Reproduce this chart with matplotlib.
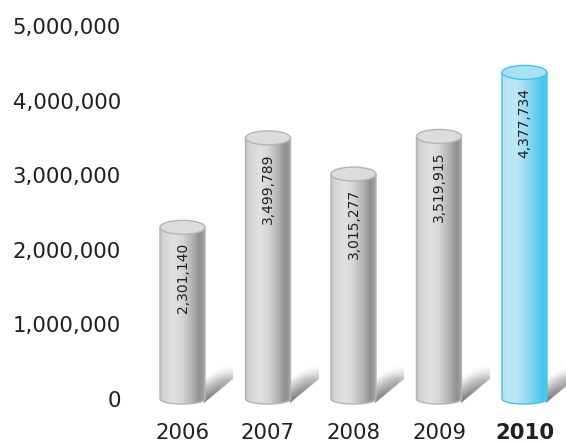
import numpy as np
import matplotlib
matplotlib.use("Agg")
import matplotlib.pyplot as plt
from matplotlib.path import Path
from matplotlib.patches import PathPatch, Ellipse
from matplotlib.colors import LinearSegmentedColormap

# Data
years = ["2006", "2007", "2008", "2009", "2010"]
values = [2301140, 3499789, 3015277, 3519915, 4377734]
yticks = [0, 1000000, 2000000, 3000000, 4000000, 5000000]
ytick_labels = ["0", "1,000,000", "2,000,000", "3,000,000", "4,000,000", "5,000,000"]
highlight = "2010"

W, H, DPI = 566, 443, 100
fig = plt.figure(figsize=(W / DPI, H / DPI), dpi=DPI)
fig.patch.set_facecolor("white")

# axes placed in pixel terms; the axes reach a little below zero so the
# rounded feet of the cylinders are not cut off
ax_left_px, zero_px, ax_top_px, ax_bottom_px = 130, 399, 26, 416
ymax = 5000000
px_y = ymax / (zero_px - ax_top_px)
ymin = -(ax_bottom_px - zero_px) * px_y
ax = fig.add_axes([ax_left_px / W, (H - ax_bottom_px) / H,
                   (W - ax_left_px) / W, (ax_bottom_px - ax_top_px) / H])
step_px = 85.5
first_px = 182.5
xmin = -(first_px - ax_left_px) / step_px
xmax = (W - first_px) / step_px
px_x = 1.0 / step_px

bar_w = 45 * px_x
top_eh = 7 * px_y       # half height of top ellipse
bot_eh = 5 * px_y       # half height of bottom curve

gray_cmap = LinearSegmentedColormap.from_list(
    "cyl_gray",
    [(0.0, "#c6c6c6"), (0.08, "#d4d4d4"), (0.3, "#e1e1e1"), (0.5, "#d5d5d5"),
     (0.72, "#b2b2b2"), (0.88, "#8f8f8f"), (1.0, "#a6a6a6")])
blue_cmap = LinearSegmentedColormap.from_list(
    "cyl_blue",
    [(0.0, "#aee0f3"), (0.1, "#bde7f6"), (0.3, "#bfe8f6"), (0.55, "#94d9f1"),
     (0.8, "#5ccbec"), (0.92, "#4ac5ea"), (1.0, "#5fcdee")])

grad = np.linspace(0, 1, 256).reshape(1, -1)

# shadow wedge (pixel offsets from the right foot of a cylinder)
sw, sh = 28, 34
nx, ny = 90, 110
us = np.linspace(0, sw, nx)
vs = np.linspace(-6, sh, ny)
U, V = np.meshgrid(us, vs)
diag = -4 + U * (24.0 / sw)
d = V - diag
shadow_alpha = np.where(d >= 0, np.clip(1 - d / 24.0, 0, 1), 0)
shadow_alpha *= np.clip(1 - U / (sw + 8), 0, 1) ** 0.5
shadow_alpha *= np.clip((sh - V) / 14.0, 0, 1)
shadow_rgba = np.zeros((ny, nx, 4))
shadow_rgba[..., :3] = 0.45
shadow_rgba[..., 3] = shadow_alpha

for i, (yr, v) in enumerate(zip(years, values)):
    hl = (yr == highlight)
    cmap = blue_cmap if hl else gray_cmap
    edge = "#45c1ea" if hl else "#b4b4b4"
    top_fc = "#a9e1f4" if hl else "#dcdcdc"
    xl, xr = i - bar_w / 2, i + bar_w / 2

    ax.imshow(shadow_rgba, extent=(xr - 1 * px_x, xr + sw * px_x, -6 * px_y, sh * px_y),
              origin="lower", aspect="auto", interpolation="bilinear",
              zorder=1, clip_on=False)

    # cylinder body
    t = np.linspace(np.pi, 2 * np.pi, 60)
    arc_x = i + (bar_w / 2) * np.cos(t)
    arc_y = bot_eh * np.sin(t)
    verts = [(xl, v)] + list(zip(arc_x, arc_y)) + [(xr, v), (xl, v)]
    codes = [Path.MOVETO] + [Path.LINETO] * (len(verts) - 2) + [Path.CLOSEPOLY]
    body_path = Path(verts, codes)
    img = ax.imshow(grad, cmap=cmap, extent=(xl, xr, -bot_eh, v),
                    aspect="auto", interpolation="bilinear", zorder=2)
    clip = PathPatch(body_path, facecolor="none", edgecolor="none",
                     transform=ax.transData)
    img.set_clip_path(clip)
    outline = PathPatch(body_path, facecolor="none", edgecolor=edge, lw=1.0,
                        zorder=3, clip_on=False)
    ax.add_patch(outline)

    # top cap
    cap = Ellipse((i, v), bar_w, 2 * top_eh, facecolor=top_fc, edgecolor=edge,
                  lw=1.0, zorder=4, clip_on=False)
    ax.add_patch(cap)

    # value label
    ax.annotate(f"{v:,}", xy=(i, v), xytext=(0, -11), textcoords="offset points",
                rotation=90, ha="center", va="top", fontsize=10,
                color="#231f20", zorder=5)

ax.set_xlim(xmin, xmax)
ax.set_ylim(ymin, ymax)

ax.set_yticks(yticks)
ax.set_yticklabels(ytick_labels)
ax.set_xticks(range(len(years)))
ax.set_xticklabels(years)
for lab in ax.get_xticklabels():
    if lab.get_text() == highlight:
        lab.set_fontweight("bold")
ax.tick_params(axis="y", length=0, pad=6.5, labelsize=15.3, labelcolor="#231f20")
ax.tick_params(axis="x", length=0, pad=5.3, labelsize=15.3, labelcolor="#231f20")
for s in ax.spines.values():
    s.set_visible(False)
ax.patch.set_alpha(0)

fig.savefig("out.png", dpi=DPI)
